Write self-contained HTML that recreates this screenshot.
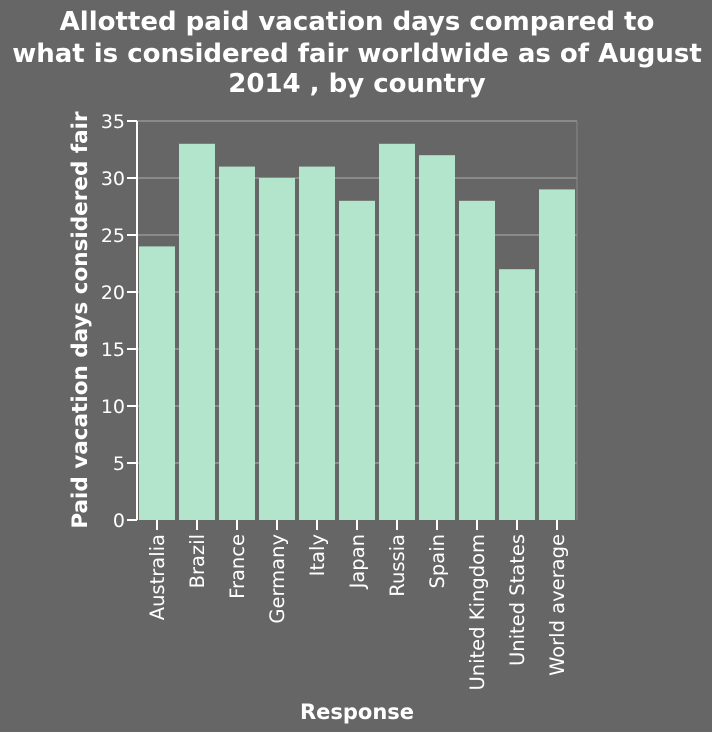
<!DOCTYPE html>
<html><head><meta charset="utf-8"><style>
body{margin:0;background:#666666;}
svg{display:block;font-family:"DejaVu Sans","Liberation Sans",sans-serif;}
</style></head><body>
<svg width="712" height="732">
<rect width="712" height="732" fill="#666666"/>
<g fill="#fff" font-weight="bold" font-size="26" text-anchor="middle">
<text x="357" y="30">Allotted paid vacation days compared to</text>
<text x="357" y="62">what is considered fair worldwide as of August</text>
<text x="357" y="92">2014 , by country</text>
</g>
<g id="grid"></g><g id="bars"></g><g id="axes"></g>
<text x="357" y="719" fill="#fff" font-weight="bold" font-size="21" text-anchor="middle">Response</text>
<text transform="translate(87,320) rotate(-90)" fill="#fff" font-weight="bold" font-size="21.5" text-anchor="middle">Paid vacation days considered fair</text>
</svg>
<script>
const categories=["Australia","Brazil","France","Germany","Italy","Japan","Russia","Spain","United Kingdom","United States","World average"];
const values=[24,33,31,30,31,28,33,32,28,22,29];
const yTicks=[0,5,10,15,20,25,30,35];
const NS="http://www.w3.org/2000/svg";
const x0=137,x1=577,y0=520,y1=121,yMax=35;
const band=(x1-x0)/categories.length;
const y=v=>y0-(v/yMax)*(y0-y1);
function mk(t,a,p){const e=document.createElementNS(NS,t);for(const k in a)e.setAttribute(k,a[k]);p.appendChild(e);return e;}
const grid=document.getElementById('grid'),bars=document.getElementById('bars'),axes=document.getElementById('axes');
yTicks.forEach(t=>{
 if(t>0){const g=mk('line',{x1:x0,x2:x1,y1:y(t),y2:y(t),stroke:'#8a8a8a','stroke-width':2},grid);
 
 }
 const tk=mk('line',{x1:x0-10,x2:x0,y1:y(t),y2:y(t),stroke:'#fff','stroke-width':2},axes);
 
 
 const l=mk('text',{x:x0-12,y:y(t)+7,fill:'#fff','font-size':19,'text-anchor':'end'},axes);l.textContent=t;
 
 
});
mk('line',{x1:x1,x2:x1,y1:y1,y2:y0,stroke:'#8a8a8a','stroke-width':1},grid);
categories.forEach((c,i)=>{
 const bx=x0+i*band+2,bw=band-4;
 const r=mk('rect',{x:bx,y:y(values[i]),width:bw,height:y0-y(values[i]),fill:'#b3e5cd'},bars);
 
 
 const cx=x0+(i+0.5)*band;
 const tk=mk('line',{x1:cx,x2:cx,y1:y0,y2:y0+10,stroke:'#fff','stroke-width':2},axes);
 
 
 const l=mk('text',{transform:`translate(${cx+7},${y0+14}) rotate(-90)`,fill:'#fff','font-size':19.5,'text-anchor':'end'},axes);l.textContent=c;
 
 
});
const ax=mk('line',{x1:x0,x2:x0,y1:y1,y2:y0,stroke:'#fff','stroke-width':2},axes);


</script>
</body></html>
